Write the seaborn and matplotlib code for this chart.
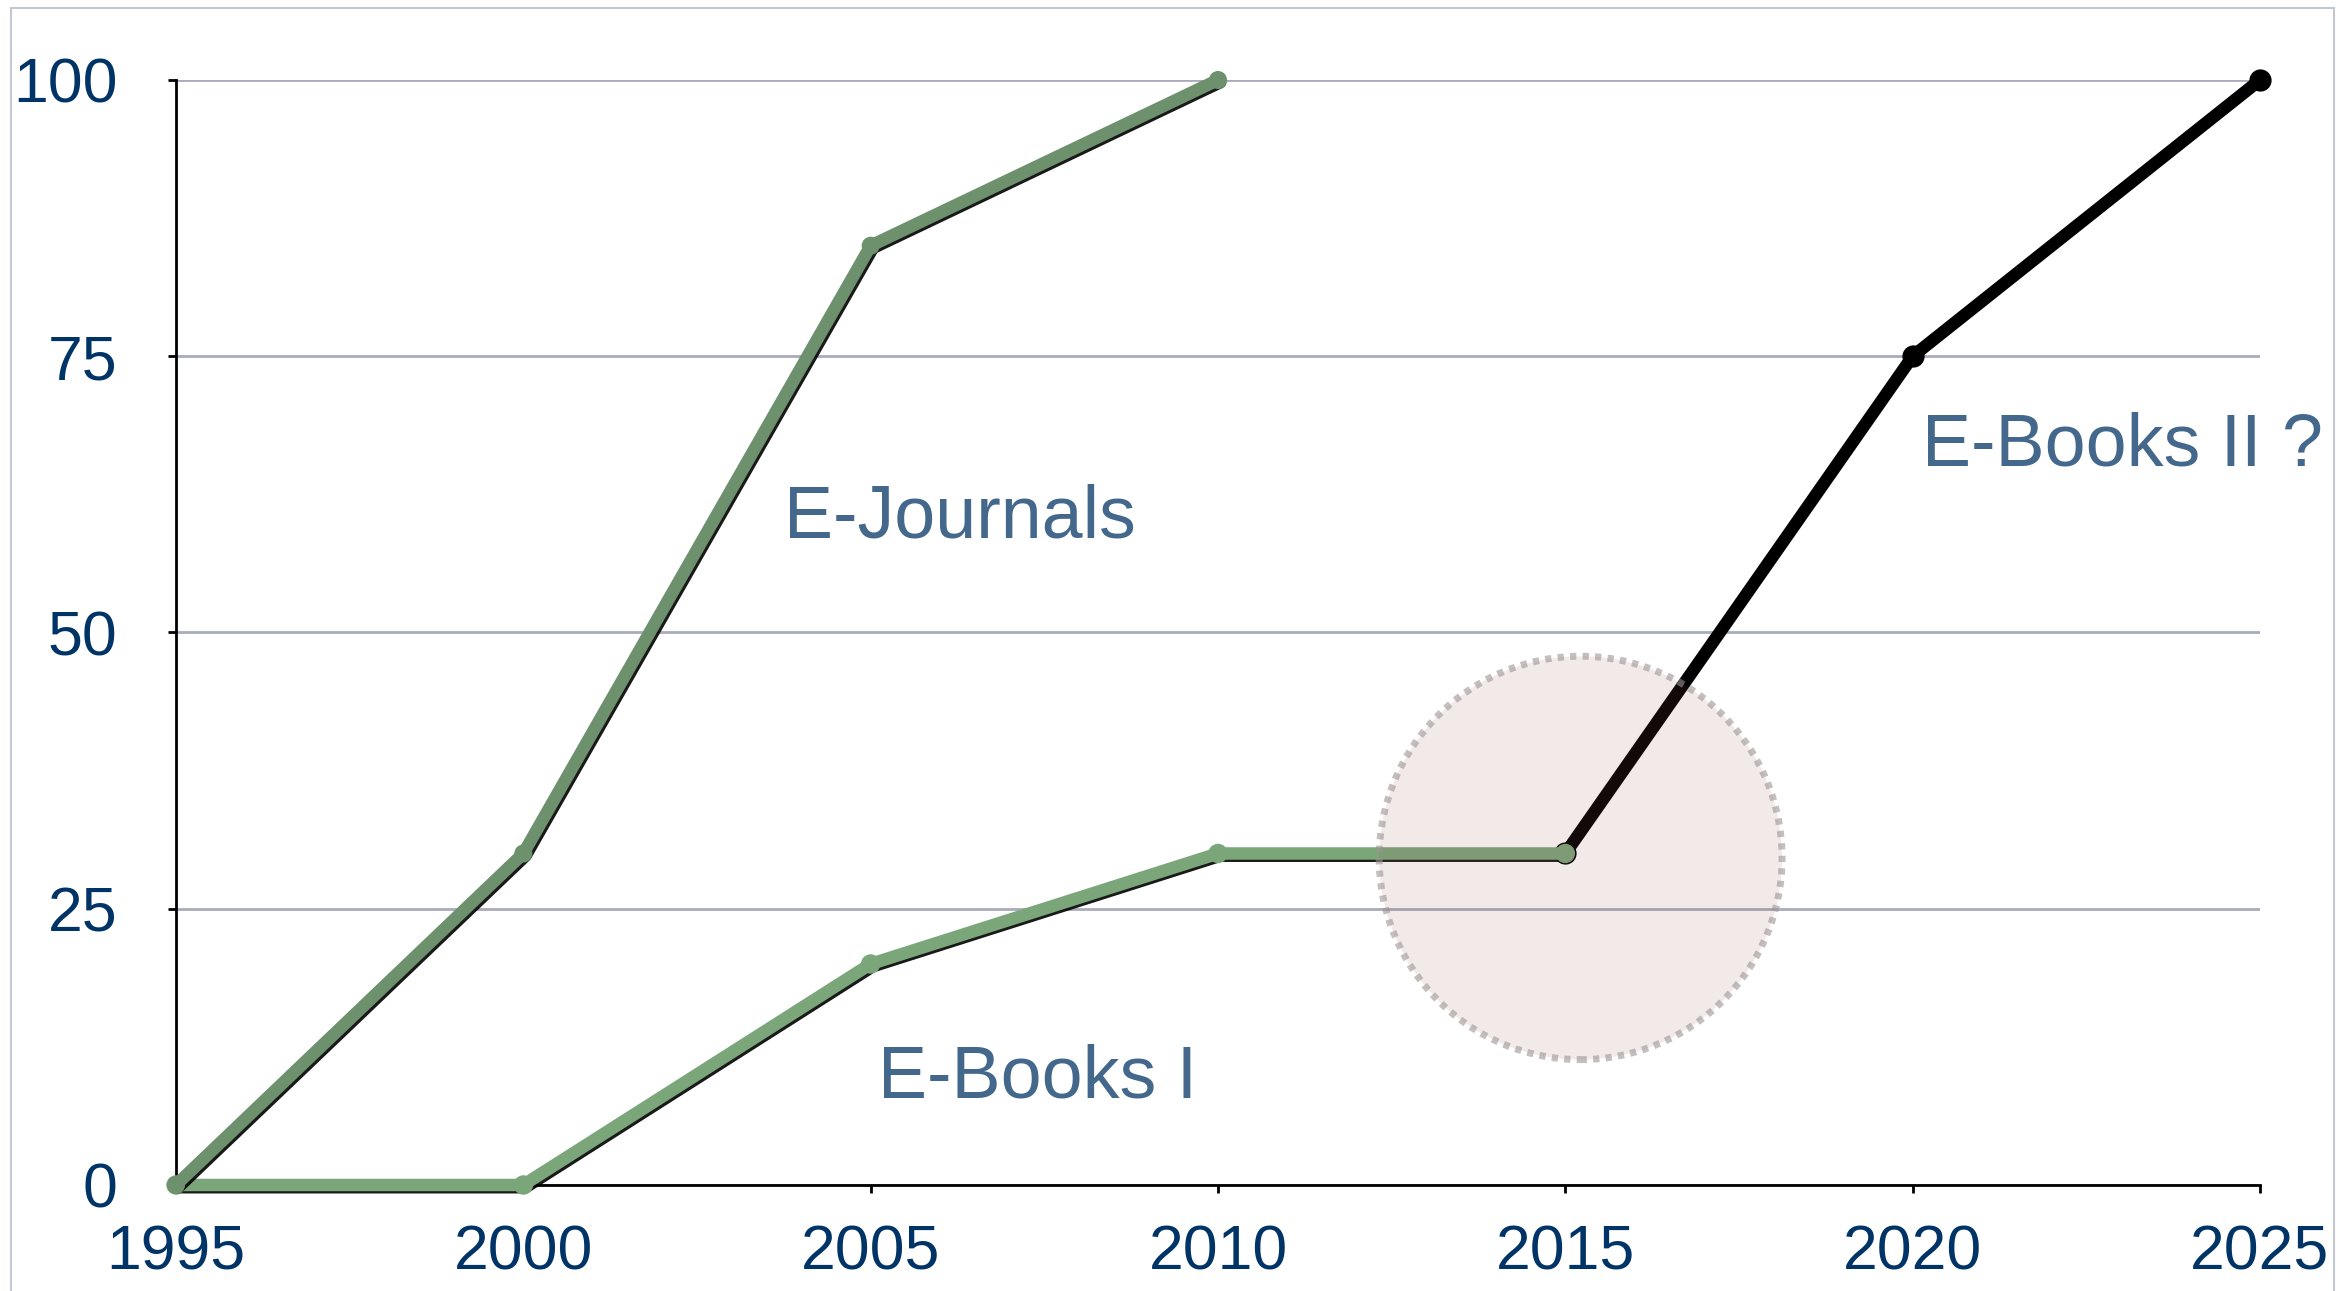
import matplotlib
matplotlib.use("Agg")
import matplotlib.pyplot as plt
import matplotlib.patheffects as pe
from matplotlib.patches import Ellipse, Rectangle
import pandas as pd
import seaborn as sns

# data
ejournal_years = [1995, 2000, 2005, 2010]
ejournal_values = [0, 30, 85, 100]

ebooks1_years = [1995, 2000, 2005, 2010, 2015]
ebooks1_values = [0, 0, 20, 30, 30]

ebooks2_years = [2015, 2020, 2025]
ebooks2_values = [30, 75, 100]

x_ticks = [1995, 2000, 2005, 2010, 2015, 2020, 2025]
y_ticks = [0, 25, 50, 75, 100]

sns.set_theme(style="white")
plt.rcParams['font.family'] = ['Liberation Sans', 'DejaVu Sans']

tick_color = '#003366'
label_color = '#44678c'

fig = plt.figure(figsize=(23.48, 12.91), dpi=100)
ax = fig.add_axes([0.07496, 0.08211, 0.88756, 0.85593])

# light frame round the whole slide
fig.patches.append(Rectangle((11 / 2348, -0.05), (2334 - 11) / 2348, 1.05 - 8 / 1291,
                             transform=fig.transFigure, fill=False,
                             edgecolor='#c3c7d0', linewidth=1.5, zorder=0))

df2 = pd.DataFrame({'year': ebooks2_years, 'value': ebooks2_values})
df1 = pd.DataFrame({'year': ebooks1_years, 'value': ebooks1_values})
dfj = pd.DataFrame({'year': ejournal_years, 'value': ejournal_values})

shadow = [pe.SimpleLineShadow(offset=(1.6, -1.6), shadow_color='black', alpha=0.9), pe.Normal()]

series = [
    (df2, 'black', 9, 16, False),
    (df1, '#7aa67a', 9, 14, True),
    (dfj, '#6c916c', 9, 13, True),
]
for data, color, lw, ms, has_shadow in series:
    sns.lineplot(data=data, x='year', y='value', ax=ax, color=color,
                 marker='o', zorder=4)
    line = ax.get_lines()[-1]
    line.set_linewidth(lw)
    line.set_markersize(ms)
    line.set_markeredgewidth(0)
    line.set_markeredgecolor(color)
    line.set_markerfacecolor(color)
    line.set_clip_on(False)
    if has_shadow:
        line.set_path_effects(shadow)

# highlight round the 2015 break point
ax.add_patch(Ellipse((2015.22, 29.6), 5.8, 36.5, facecolor=(0.59, 0.31, 0.31, 0.12),
                     edgecolor=(0.62, 0.58, 0.58, 0.6), linewidth=5, linestyle=(0, (0.9, 0.9)),
                     zorder=5, clip_on=False))

ax.text(2003.75, 58.6, 'E-Journals', fontsize=53, color=label_color, va='baseline', ha='left')
ax.text(2005.1, 7.9, 'E-Books I', fontsize=53, color=label_color, va='baseline', ha='left')
ax.text(2020.13, 65.1, 'E-Books II ?', fontsize=53, color=label_color, va='baseline', ha='left')

ax.set_xlim(1995, 2025)
ax.set_ylim(0, 100)
ax.set_xticks(x_ticks)
ax.set_yticks(y_ticks)
ax.set_xticklabels([str(t) for t in x_ticks])
ax.set_yticklabels([str(t) for t in y_ticks])
ax.set_xlabel('')
ax.set_ylabel('')

ax.grid(axis='y', color='#a9abbb', linewidth=2)
ax.grid(axis='x', visible=False)
ax.set_axisbelow(True)

for side in ['top', 'right']:
    ax.spines[side].set_visible(False)
for side in ['left', 'bottom']:
    ax.spines[side].set_color('black')
    ax.spines[side].set_linewidth(2)

ax.tick_params(axis='both', direction='out', length=6, width=2, color='black',
               labelsize=45, labelcolor=tick_color)
ax.tick_params(axis='x', pad=22)
ax.tick_params(axis='y', pad=36)
ax.xaxis.set_ticks_position('bottom')
ax.yaxis.set_ticks_position('left')

fig.savefig('out.png', dpi=100)
